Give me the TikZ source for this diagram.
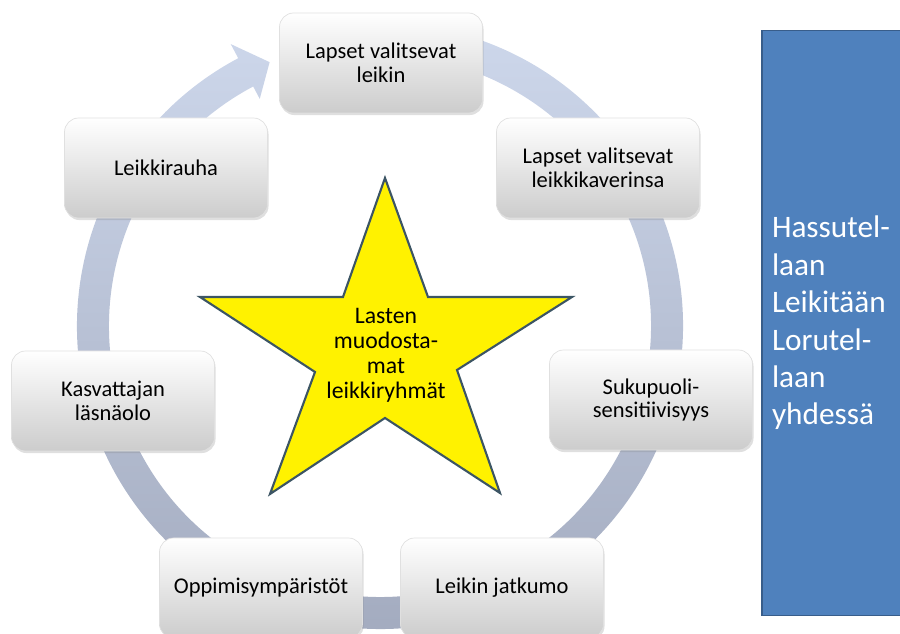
\documentclass[tikz,border=0pt]{standalone}
\usepackage{fontspec}
\setmainfont{Carlito}
\usepackage{tikz}
\usetikzlibrary{shadows}

\definecolor{ringtop}{RGB}{205,215,235}
\definecolor{ringbot}{RGB}{162,170,190}
\definecolor{starline}{RGB}{60,85,100}
\definecolor{sidefill}{RGB}{79,129,189}
\definecolor{sideline}{RGB}{56,93,138}

\tikzset{
    stepbox/.style={rectangle, rounded corners=8pt, minimum width=4.06cm, minimum height=2cm,
        align=center, top color=white, bottom color=black!20, draw=black!12,
        drop shadow={shadow xshift=0.6pt, shadow yshift=-1.2pt, opacity=0.25},
        font=\fontsize{12.8}{13.5}\selectfont},
    sidebox/.style={rectangle, fill=sidefill, draw=sideline, line width=1pt,
        minimum width=3cm, minimum height=11.7cm, text width=2.6cm, align=left,
        text=white, font=\fontsize{17.8}{21.3}\selectfont},
}

\begin{document}
\begin{tikzpicture}[x=0.02cm,y=0.02cm]
    \useasboundingbox (0,0) rectangle (900,634);
    % cycle arrow behind the steps
    \begin{scope}[shift={(380,308)}]
        \shade[top color=ringtop, bottom color=ringbot]
            (80:303) arc[start angle=80, end angle=-242.1, radius=303]
            -- (-242.1:319) -- (-247.3:286) -- (-242.1:257) -- (-242.1:271)
            arc[start angle=-242.1, end angle=80, radius=271] -- cycle;
    \end{scope}

    \node[stepbox] (leikin) at (381,571) {Lapset valitsevat\\leikin};
    \node[stepbox] (kaveri) at (598,466) {Lapset valitsevat\\leikkikaverinsa};
    \node[stepbox] (suku) at (651,234) {Sukupuoli-\\sensitiivisyys};
    \node[stepbox] (jatkumo) at (502,46) {Leikin jatkumo};
    \node[stepbox] (oppi) at (261,46) {Oppimisympäristöt};
    \node[stepbox] (kasv) at (113,233) {Kasvattajan\\läsnäolo};
    \node[stepbox] (rauha) at (166,466) {Leikkirauha};

    % star in the middle
    \draw[fill=yellow, draw=starline, line width=1.2pt, line join=miter]
        (385,456) -- (428,337) -- (572,337) -- (457,264) -- (500,141)
        -- (385,216) -- (270,140) -- (315,262) -- (200,337) -- (343,337) -- cycle;
    \node[align=center, font=\fontsize{13.5}{14.2}\selectfont] (ryhmat) at (386,279)
        {Lasten\\muodosta-\\mat\\leikkiryhmät};

    \node[sidebox] (leikit) at (837,311) {Hassutel-\\laan\\Leikitään\\Lorutel-\\laan\\yhdessä};
\end{tikzpicture}
\end{document}
